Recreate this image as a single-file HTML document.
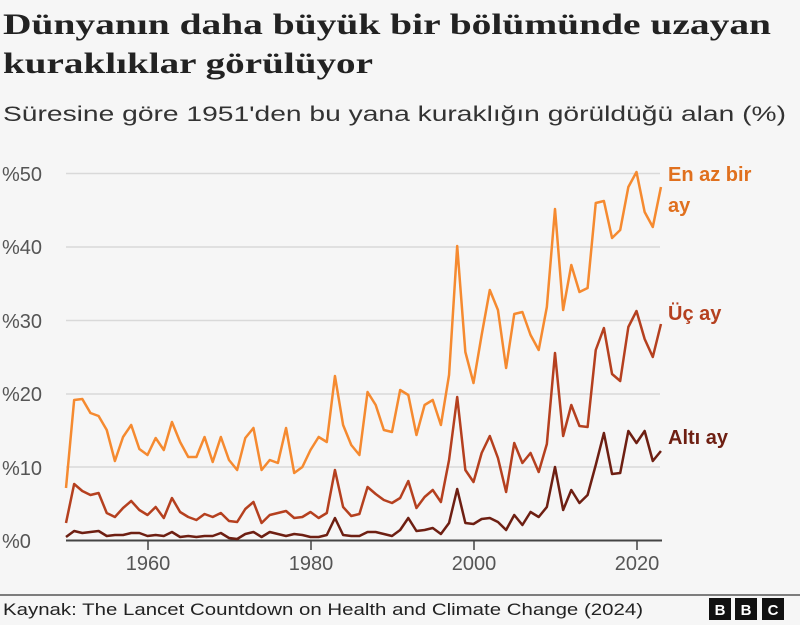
<!DOCTYPE html>
<html><head><meta charset="utf-8"><style>
html,body{margin:0;padding:0;background:#f6f6f6;}
svg{display:block;font-family:"Liberation Sans",sans-serif;}
</style></head><body>
<svg width="800" height="625" viewBox="0 0 800 625" xmlns="http://www.w3.org/2000/svg">
<rect width="800" height="625" fill="#f6f6f6"/>
<text x="3" y="34" font-family="Liberation Serif, serif" font-weight="bold" font-size="30" fill="#222" textLength="768" lengthAdjust="spacingAndGlyphs">Dünyanın daha büyük bir bölümünde uzayan</text>
<text x="3" y="73" font-family="Liberation Serif, serif" font-weight="bold" font-size="30" fill="#222" textLength="370" lengthAdjust="spacingAndGlyphs">kuraklıklar görülüyor</text>
<text x="3" y="121" font-size="21" fill="#333" textLength="783" lengthAdjust="spacingAndGlyphs">Süresine göre 1951'den bu yana kuraklığın görüldüğü alan (%)</text>
<g stroke="#d9d9d9" stroke-width="1.5">
<line x1="66" x2="660" y1="173.5" y2="173.5"/>
<line x1="66" x2="660" y1="247" y2="247"/>
<line x1="66" x2="660" y1="320.5" y2="320.5"/>
<line x1="66" x2="660" y1="394" y2="394"/>
<line x1="66" x2="660" y1="467" y2="467"/>
</g>
<g font-size="20" fill="#555">
<text x="2" y="181">%50</text>
<text x="2" y="254">%40</text>
<text x="2" y="328">%30</text>
<text x="2" y="401">%20</text>
<text x="2" y="475">%10</text>
<text x="2" y="548">%0</text>
</g>
<line x1="66" x2="662" y1="540.5" y2="540.5" stroke="#444" stroke-width="2"/>
<g stroke="#444" stroke-width="1.5">
<line x1="148" x2="148" y1="540" y2="550"/>
<line x1="311" x2="311" y1="540" y2="550"/>
<line x1="474" x2="474" y1="540" y2="550"/>
<line x1="637" x2="637" y1="540" y2="550"/>
</g>
<g font-size="20" fill="#555" text-anchor="middle">
<text x="148" y="570">1960</text>
<text x="311" y="570">1980</text>
<text x="474" y="570">2000</text>
<text x="637" y="570">2020</text>
</g>
<g transform="translate(66,0) scale(8.15,1)" fill="none" stroke-linejoin="round">
<polyline vector-effect="non-scaling-stroke" stroke="#f58a30" stroke-width="2.5" points="0,488 1,400 2,399 3,413 4,416 5,430 6,461 7,437 8,425 9,449 10,455 11,438 12,450 13,422 14,442 15,457 16,457 17,437 18,462 19,437 20,460 21,470 22,438 23,428 24,470 25,460 26,463 27,428 28,473 29,467 30,450 31,437 32,442 33,376 34,425 35,445 36,455 37,392 38,405 39,430 40,432 41,390 42,395 43,435 44,405 45,400 46,425 47,375 48,246 49,352 50,383 51,335 52,290 53,310 54,368 55,314 56,312 57,335 58,350 59,307 60,209 61,310 62,265 63,292 64,288 65,203 66,201 67,238 68,230 69,187 70,172 71,212 72,227 73,187"/>
<polyline vector-effect="non-scaling-stroke" stroke="#b5401f" stroke-width="2.5" points="0,523 1,484 2,491 3,495 4,493 5,513 6,517 7,508 8,501 9,510 10,515 11,507 12,518 13,498 14,512 15,517 16,520 17,514 18,517 19,513 20,521 21,522 22,509 23,502 24,523 25,515 26,513 27,511 28,518 29,517 30,512 31,518 32,513 33,470 34,507 35,516 36,514 37,487 38,494 39,500 40,503 41,498 42,481 43,508 44,497 45,490 46,502 47,460 48,397 49,470 50,482 51,453 52,436 53,458 54,492 55,443 56,463 57,453 58,472 59,444 60,353 61,436 62,405 63,426 64,427 65,350 66,328 67,374 68,381 69,327 70,311 71,339 72,357 73,324"/>
<polyline vector-effect="non-scaling-stroke" stroke="#6e1f12" stroke-width="2.5" points="0,537 1,531 2,533 3,532 4,531 5,536 6,535 7,535 8,533 9,533 10,536 11,535 12,536 13,532 14,537 15,536 16,537 17,536 18,536 19,533 20,538 21,539 22,534 23,532 24,537 25,532 26,534 27,536 28,534 29,535 30,537 31,537 32,535 33,518 34,535 35,536 36,536 37,532 38,532 39,534 40,536 41,530 42,518 43,531 44,530 45,528 46,534 47,523 48,489 49,523 50,524 51,519 52,518 53,522 54,530 55,515 56,525 57,512 58,517 59,507 60,467 61,510 62,490 63,503 64,495 65,465 66,433 67,474 68,473 69,431 70,443 71,431 72,461 73,451"/>
</g>
<g font-size="20" font-weight="bold">
<text x="668" y="181" fill="#e0701e">En az bir</text>
<text x="668" y="212" fill="#e0701e">ay</text>
<text x="668" y="320" fill="#b5401f">Üç ay</text>
<text x="668" y="444" fill="#6e1f12">Altı ay</text>
</g>
<line x1="0" x2="800" y1="595" y2="595" stroke="#555" stroke-width="1.5"/>
<text x="3" y="615" font-size="16.5" fill="#222" textLength="640" lengthAdjust="spacingAndGlyphs">Kaynak: The Lancet Countdown on Health and Climate Change (2024)</text>
<g font-size="15" font-weight="bold" fill="#fff" text-anchor="middle">
<rect x="709" y="598" width="22" height="22" fill="#111"/><text x="720" y="615">B</text>
<rect x="735" y="598" width="22" height="22" fill="#111"/><text x="746" y="615">B</text>
<rect x="762" y="598" width="22" height="22" fill="#111"/><text x="773" y="615">C</text>
</g>
</svg>
</body></html>
